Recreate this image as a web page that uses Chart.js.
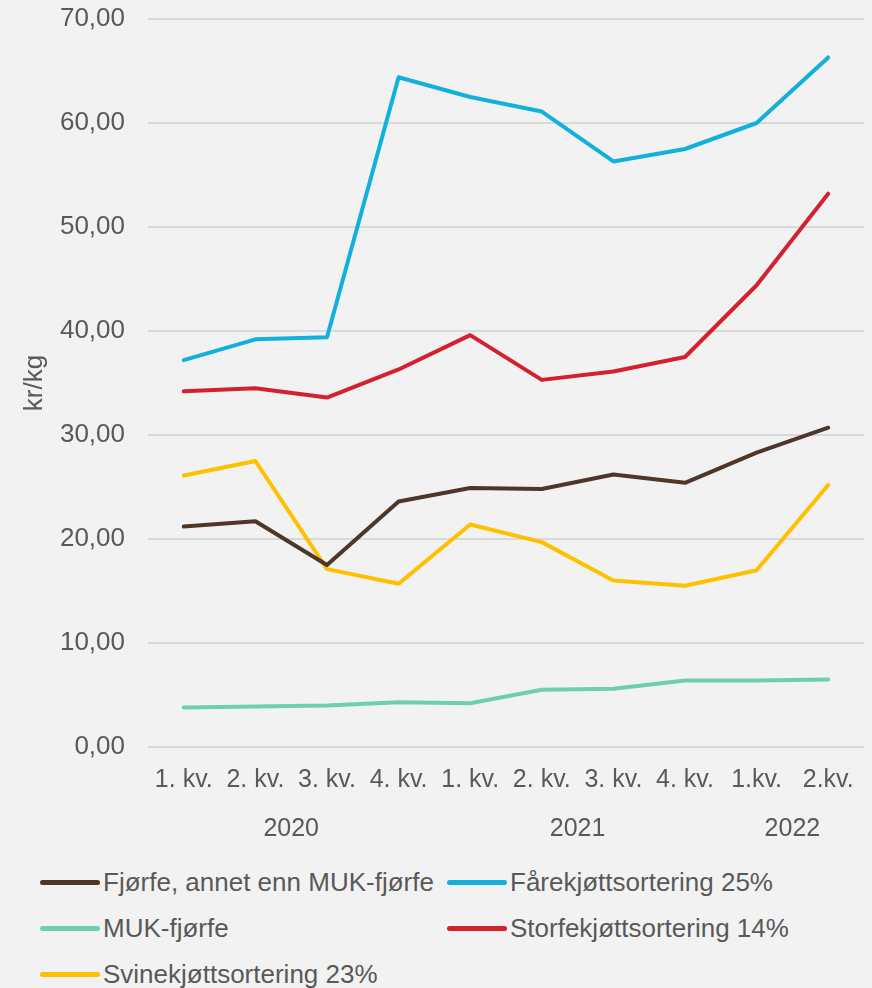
<!DOCTYPE html>
<html>
<head>
<meta charset="utf-8">
<script src="https://cdn.jsdelivr.net/npm/chart.js@4/dist/chart.umd.min.js"></script>
<style>
  html, body { margin: 0; padding: 0; background: #f2f2f2; }
  #wrap { width: 872px; height: 850px; position: relative; }
  #legend {
    display: grid;
    grid-template-columns: 407px 425px;
    padding-left: 40px;
    padding-top: 9px;
    font-family: "Liberation Sans", Arial, sans-serif;
    font-size: 26px;
    color: #595959;
  }
  .item { display: flex; align-items: center; height: 46px; white-space: nowrap; }
  .swatch { width: 60px; height: 5px; border-radius: 3px; margin-right: 3px; }
</style>
</head>
<body>
<div id="wrap"><canvas id="chart"></canvas></div>
<div id="legend"></div>
<script>
const quarters = ["1. kv.", "2. kv.", "3. kv.", "4. kv.", "1. kv.", "2. kv.", "3. kv.", "4. kv.", "1.kv.", "2.kv."];
const years = ["2020", "2021", "2022"];
const yearCenters = [1.5, 5.5, 8.5];

const fjorfe = [21.2, 21.7, 17.5, 23.6, 24.9, 24.8, 26.2, 25.4, 28.3, 30.7];
const farekjott = [37.2, 39.2, 39.4, 64.4, 62.5, 61.1, 56.3, 57.5, 60.0, 66.3];
const mukFjorfe = [3.8, 3.9, 4.0, 4.3, 4.2, 5.5, 5.6, 6.4, 6.4, 6.5];
const storfe = [34.2, 34.5, 33.6, 36.3, 39.6, 35.3, 36.1, 37.5, 44.4, 53.2];
const svin = [26.1, 27.5, 17.1, 15.7, 21.4, 19.7, 16.0, 15.5, 17.0, 25.2];

const textColor = "#595959";
const fontFamily = "'Liberation Sans', Arial, sans-serif";

const htmlLegend = {
  id: "htmlLegend",
  afterUpdate(chart) {
    const box = document.getElementById("legend");
    box.innerHTML = "";
    chart.data.datasets.forEach((ds) => {
      const item = document.createElement("div");
      item.className = "item";
      const sw = document.createElement("span");
      sw.className = "swatch";
      sw.style.background = ds.borderColor;
      item.appendChild(sw);
      item.appendChild(document.createTextNode(ds.label));
      box.appendChild(item);
    });
  },
};

const ctx = document.getElementById("chart").getContext("2d");
new Chart(ctx, {
  type: "line",
  data: {
    labels: quarters,
    datasets: [
      { label: "Fjørfe, annet enn MUK-fjørfe", data: fjorfe, borderColor: "#4e3629" },
      { label: "Fårekjøttsortering 25%", data: farekjott, borderColor: "#12b0dc" },
      { label: "MUK-fjørfe", data: mukFjorfe, borderColor: "#6dcfb0" },
      { label: "Storfekjøttsortering 14%", data: storfe, borderColor: "#d4202f" },
      { label: "Svinekjøttsortering 23%", data: svin, borderColor: "#ffc000" },
    ],
  },
  options: {
    responsive: true,
    maintainAspectRatio: false,
    animation: false,
    layout: { padding: { top: 0, right: 8, left: 0, bottom: 0 } },
    elements: {
      line: { borderWidth: 4, tension: 0, borderCapStyle: "round", borderJoinStyle: "round" },
      point: { radius: 0, hoverRadius: 0 },
    },
    plugins: {
      legend: { display: false },
      tooltip: { enabled: false },
    },
    scales: {
      x: {
        type: "category",
        offset: true,
        grid: { display: false },
        border: { display: false },
        ticks: {
          color: textColor,
          font: { family: fontFamily, size: 25 },
          padding: 10,
          maxRotation: 0,
          autoSkip: false,
        },
        afterFit: (scale) => { scale.height = 55; },
      },
      x2: {
        type: "linear",
        position: "bottom",
        min: -0.5,
        max: 9.5,
        grid: { display: false },
        border: { display: false },
        afterBuildTicks: (scale) => {
          scale.ticks = yearCenters.map((v) => ({ value: v }));
        },
        ticks: {
          color: textColor,
          font: { family: fontFamily, size: 25 },
          padding: 4,
          autoSkip: false,
          maxRotation: 0,
          callback: (v, i) => years[i],
        },
        afterFit: (scale) => { scale.height = 48; },
      },
      y: {
        min: 0,
        max: 70,
        ticks: {
          stepSize: 10,
          color: textColor,
          font: { family: fontFamily, size: 26 },
          padding: 23,
          callback: (v) => v.toFixed(2).replace(".", ","),
        },
        grid: { color: "#d9d9d9", lineWidth: 2, drawTicks: false },
        border: { display: false },
        title: {
          display: true,
          text: "kr/kg",
          color: textColor,
          font: { family: fontFamily, size: 26 },
          padding: { top: 19 },
        },
        afterFit: (scale) => {
          scale.width = 148;
          scale.paddingTop = 19;
          scale.paddingBottom = 0;
        },
      },
    },
  },
  plugins: [htmlLegend],
});
</script>
</body>
</html>
